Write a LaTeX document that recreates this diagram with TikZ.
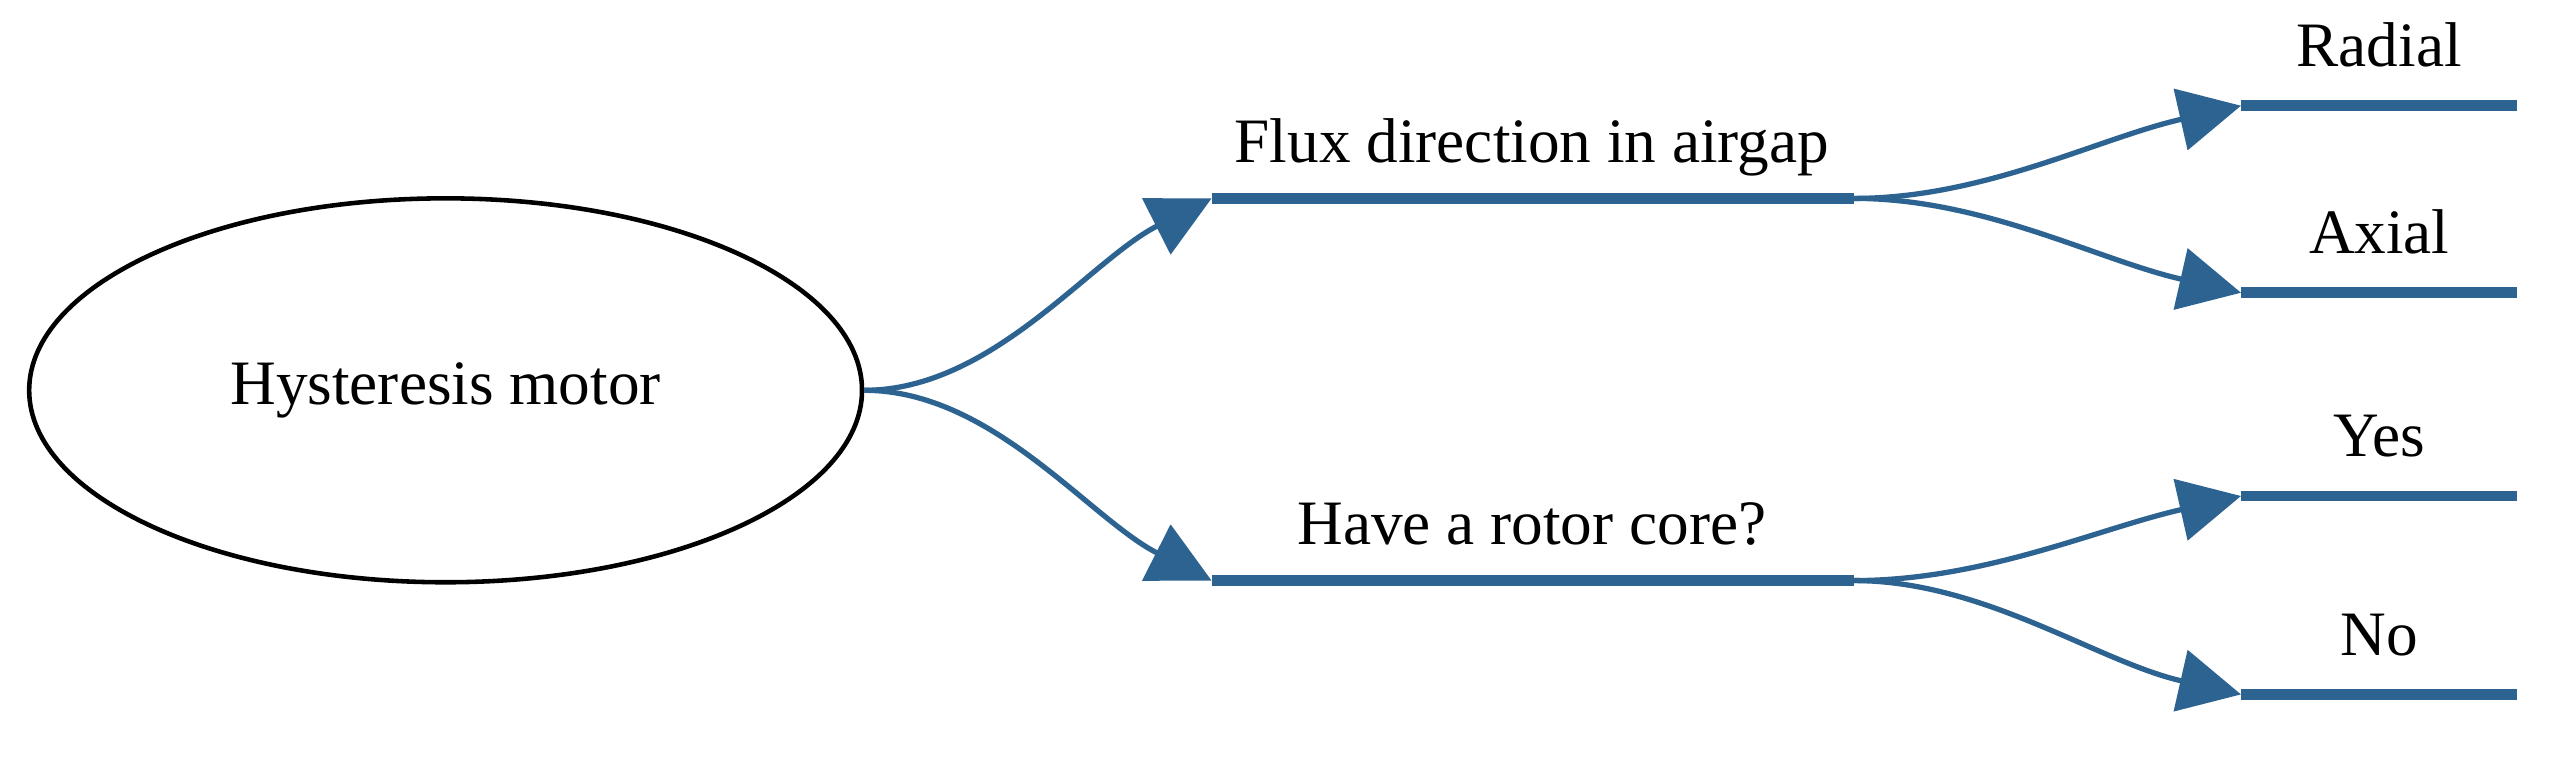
\documentclass[tikz,border=0pt]{standalone}
\usepackage{fontspec}
\setmainfont{Liberation Serif}
\usetikzlibrary{arrows.meta,shapes.geometric}
\definecolor{bl}{HTML}{2C6391}
\begin{document}
\begin{tikzpicture}[x=0.01626cm,y=-0.01626cm,
  bar/.style={bl,line width=3pt},
  link/.style={bl,line width=1.5pt,-{Triangle[length=0.62cm,width=0.62cm]}},
  lab/.style={font=\fontsize{18}{20}\selectfont,anchor=base}]
\useasboundingbox (0,0) rectangle (1568,468);
\node[draw,line width=1.3pt,ellipse,minimum width=8.33cm,minimum height=3.84cm,inner sep=0,font=\fontsize{18}{20}\selectfont] (root) at (274,240) {Hysteresis motor};
% level 1
\coordinate (a1) at (745,122); \coordinate (a2) at (1140,122);
\coordinate (b1) at (745,357); \coordinate (b2) at (1140,357);
\draw[bar] (a1) -- (a2); \draw[bar] (b1) -- (b2);
\node[lab] (fa) at (942,100) {Flux direction in airgap};
\node[lab] (fb) at (942,335) {Have a rotor core?};
\draw[link] (root.east) .. controls (610,240) and (670,160) .. (a1);
\draw[link] (root.east) .. controls (610,240) and (670,319) .. (b1);
% level 2
\foreach \n/\y/\t/\p/\d in {c/65/Radial/a2/20,d/180/Axial/a2/-20,e/305/Yes/b2/20,f/427/No/b2/-20}{
  \coordinate (\n1) at (1378,\y); \coordinate (\n2) at (1548,\y);
  \draw[bar] (\n1) -- (\n2);
  \node[lab] at (1463,\y-24) {\t};
  \path (\p) ++(80,0) coordinate (\n p);
  \draw[link] (\p) .. controls (\n p) and (1290,\y+\d) .. (\n1);
}
\end{tikzpicture}
\end{document}
